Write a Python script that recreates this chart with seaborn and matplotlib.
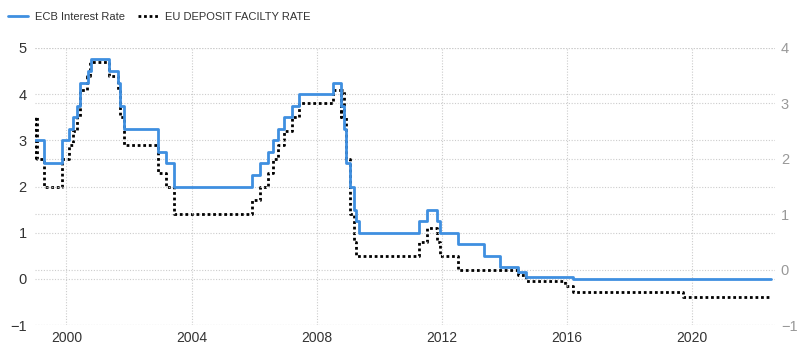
import matplotlib
matplotlib.use("Agg")
import matplotlib.pyplot as plt
import matplotlib.dates as mdates
import pandas as pd
import seaborn as sns

# ECB main refinancing rate: change dates and new values (%)
ecb_dates = ["1999-01-01", "1999-04-09", "1999-11-05", "2000-02-04", "2000-03-17",
             "2000-04-28", "2000-06-09", "2000-09-06", "2000-10-11", "2001-05-11",
             "2001-08-31", "2001-09-18", "2001-11-09", "2002-12-06", "2003-03-07",
             "2003-06-06", "2005-12-06", "2006-03-08", "2006-06-15", "2006-08-09",
             "2006-10-11", "2006-12-13", "2007-03-14", "2007-06-13", "2008-07-09",
             "2008-10-15", "2008-11-12", "2008-12-10", "2009-01-21", "2009-03-11",
             "2009-04-08", "2009-05-13", "2011-04-13", "2011-07-13", "2011-11-09",
             "2011-12-14", "2012-07-11", "2013-05-08", "2013-11-13", "2014-06-11",
             "2014-09-10", "2016-03-16", "2022-07-15"]
ecb_rate = [3.00, 2.50, 3.00, 3.25, 3.50, 3.75, 4.25, 4.50, 4.75, 4.50,
            4.25, 3.75, 3.25, 2.75, 2.50, 2.00, 2.25, 2.50, 2.75, 3.00,
            3.25, 3.50, 3.75, 4.00, 4.25, 3.75, 3.25, 2.50, 2.00, 1.50,
            1.25, 1.00, 1.25, 1.50, 1.25, 1.00, 0.75, 0.50, 0.25, 0.15,
            0.05, 0.00, 0.00]

# deposit facility rate: change dates and new values (%)
dep_dates = ["1999-01-01", "1999-01-04", "1999-01-22", "1999-04-09", "1999-11-05",
             "2000-02-04", "2000-03-17", "2000-04-28", "2000-06-09", "2000-09-01",
             "2000-10-06", "2001-05-11", "2001-08-31", "2001-09-18", "2001-11-09",
             "2002-12-06", "2003-03-07", "2003-06-06", "2005-12-06", "2006-03-08",
             "2006-06-15", "2006-08-09", "2006-10-11", "2006-12-13", "2007-03-14",
             "2007-06-13", "2008-07-09", "2008-10-08", "2008-10-09", "2008-11-12",
             "2008-12-10", "2009-01-21", "2009-03-11", "2009-04-08", "2011-04-13",
             "2011-07-13", "2011-11-09", "2011-12-14", "2012-07-11", "2014-06-11",
             "2014-09-10", "2015-12-09", "2016-03-16", "2019-09-18", "2022-07-15"]
dep_rate = [2.00, 2.75, 2.00, 1.50, 2.00, 2.25, 2.50, 2.75, 3.25, 3.50,
            3.75, 3.50, 3.25, 2.75, 2.25, 1.75, 1.50, 1.00, 1.25, 1.50,
            1.75, 2.00, 2.25, 2.50, 2.75, 3.00, 3.25, 2.75, 3.25, 2.75,
            2.00, 1.00, 0.50, 0.25, 0.50, 0.75, 0.50, 0.25, 0.00, -0.10,
            -0.20, -0.30, -0.40, -0.50, -0.50]

year_ticks = [2000, 2004, 2008, 2012, 2016, 2020]

ecb = pd.DataFrame({"date": pd.to_datetime(ecb_dates), "rate": ecb_rate})
dep = pd.DataFrame({"date": pd.to_datetime(dep_dates), "rate": dep_rate})

sns.set_style("white")
plt.rcParams["font.family"] = ["Liberation Sans", "DejaVu Sans"]

fig = plt.figure(figsize=(8, 3.55), dpi=100)
ax = fig.add_axes([0.044, 0.084, 0.925, 0.781])
ax2 = ax.twinx()

blue = "#3f8fe0"
grid_kw = dict(color="#cccccc", linestyle=(0, (1, 1.5)), linewidth=0.8)

sns.lineplot(data=ecb, x="date", y="rate", ax=ax, color=blue, linewidth=2,
             drawstyle="steps-post", label="ECB Interest Rate", legend=False)
sns.lineplot(data=dep, x="date", y="rate", ax=ax2, color="black", linewidth=2,
             linestyle=(0, (1, 1)), drawstyle="steps-post",
             label="EU DEPOSIT FACILTY RATE", legend=False)

ax.set_zorder(2)
ax.patch.set_visible(False)

ax.set_ylim(-1, 5)
ax2.set_ylim(-1, 4)
ax.set_yticks(range(-1, 6))
ax2.set_yticks(range(-1, 5))
ax.set_xlim(pd.Timestamp("1999-01-01"), pd.Timestamp("2022-09-01"))
ax.set_xticks([pd.Timestamp(f"{y}-01-01") for y in year_ticks])
ax.xaxis.set_major_formatter(mdates.DateFormatter("%Y"))

ax.grid(True, **grid_kw)
ax2.grid(True, axis="y", **grid_kw)
ax.set_xlabel("")
ax.set_ylabel("")
ax2.set_ylabel("")

for a in (ax, ax2):
    for s in a.spines.values():
        s.set_visible(False)
ax.tick_params(axis="y", length=0, labelsize=10.5, labelcolor="#333333", pad=6)
ax.tick_params(axis="x", length=0, labelsize=10, labelcolor="#333333", pad=4)
ax2.tick_params(axis="y", length=0, labelsize=10.5, labelcolor="#999999", pad=4)

h1, l1 = ax.get_legend_handles_labels()
h2, l2 = ax2.get_legend_handles_labels()
fig.legend(h1 + h2, l1 + l2, loc="upper left", bbox_to_anchor=(-0.002, 0.995),
           ncol=2, frameon=False, fontsize=8, handlelength=1.8,
           handletextpad=0.6, columnspacing=1.2, labelcolor="#333333")

fig.savefig("out.png", dpi=100)
